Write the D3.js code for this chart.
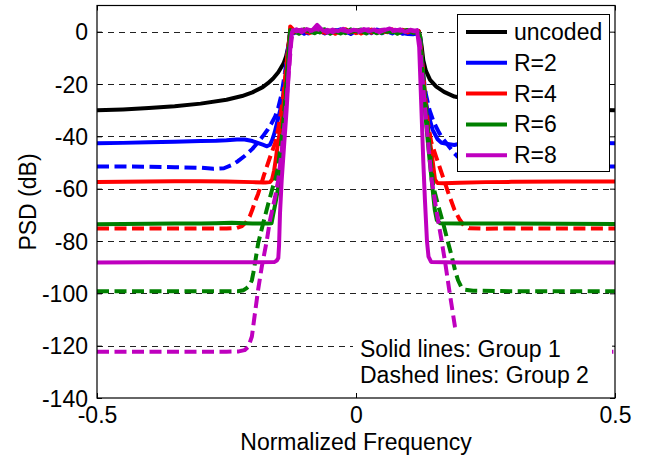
<!DOCTYPE html>
<html><head><meta charset="utf-8">
<script src="https://cdn.jsdelivr.net/npm/d3@7"></script>
<style>body{margin:0;background:#fff}</style>
</head><body><svg id="chart" width="653" height="460"></svg>
<script>
// ---------------- data ----------------
const xTicks = [-0.5, 0, 0.5];
const xTickLabels = ["-0.5", "0", "0.5"];
const yTicks = [0, -20, -40, -60, -80, -100, -120, -140];
const yTickLabels = ["0", "-20", "-40", "-60", "-80", "-100", "-120", "-140"];
const legendLabels = ["uncoded", "R=2", "R=4", "R=6", "R=8"];
const annotationLines = ["Solid lines: Group 1", "Dashed lines: Group 2"];
const xLabel = "Normalized Frequency";
const yLabel = "PSD (dB)";

const passbandFreq = [-0.127,-0.12,-0.11,-0.1,-0.09,-0.08,-0.07,-0.06,-0.05,-0.04,-0.03,-0.02,-0.01,0,0.01,0.02,0.03,0.04,0.05,0.06,0.07,0.08,0.09,0.1,0.11,0.121];
const passbandFreqR8 = [-0.122,-0.115,-0.105,-0.095,-0.085,-0.075,-0.065,-0.055,-0.045,-0.035,-0.025,-0.015,-0.005,0.005,0.015,0.025,0.035,0.045,0.055,0.065,0.075,0.085,0.095,0.105,0.112,0.118];

// uncoded
const uncodedLeft = [[-0.5,-30],[-0.45,-29.7],[-0.4,-29.2],[-0.35,-28.5],[-0.3,-27.5],[-0.25,-26],[-0.22,-24.6],[-0.2,-23.2],[-0.18,-21.2],[-0.17,-19.7],[-0.16,-17.9],[-0.15,-15.5],[-0.14,-12.2],[-0.135,-9.5],[-0.131,-6],[-0.128,-2.5]];
const uncodedPass = [0.4,0.1,-0.3,0.3,-0.2,0.5,0.1,-0.4,0.3,0.0,-0.3,0.5,0.2,-0.2,0.4,-0.1,0.3,-0.4,0.2,0.5,-0.2,0.1,0.4,-0.3,0.2,0.3];
const uncodedRight = [[0.124,-2],[0.127,-6],[0.13,-11],[0.135,-15],[0.143,-18.4],[0.155,-21],[0.17,-23],[0.19,-24.8],[0.22,-26],[0.26,-27.3],[0.3,-28.2],[0.35,-29],[0.4,-29.5],[0.45,-29.8],[0.5,-30]];

// R=2
const r2SolidLeft = [[-0.5,-42.6],[-0.45,-42.5],[-0.4,-42.3],[-0.35,-42.1],[-0.3,-41.8],[-0.27,-41.7],[-0.25,-41.5],[-0.23,-41.2],[-0.215,-41.2],[-0.2,-41.8],[-0.19,-42.5],[-0.18,-43.2],[-0.172,-43.8],[-0.166,-43.2],[-0.162,-41.5],[-0.157,-38.5],[-0.151,-33.7],[-0.145,-29],[-0.141,-24.8],[-0.134,-14.5],[-0.129,-3]];
const r2SolidPass = [0.3,-0.6,0.4,-0.8,0.2,-0.3,0.5,-0.7,0.1,0.6,-0.4,0.2,-0.9,0.3,-0.2,0.5,-0.6,0.8,-0.3,0.1,-0.7,0.4,-0.5,-0.9,-1.0,-0.6];
const r2SolidRight = [[0.124,-3],[0.127,-12],[0.13,-20],[0.134,-26],[0.14,-32],[0.148,-37.5],[0.157,-41],[0.165,-42.5],[0.18,-43],[0.19,-43.3],[0.2,-42.8],[0.22,-42.2],[0.25,-41.8],[0.3,-41.8],[0.35,-42.1],[0.4,-42.3],[0.45,-42.5],[0.5,-42.6]];
const r2DashLeft = [[-0.5,-51.5],[-0.45,-51.5],[-0.4,-51.6],[-0.35,-51.8],[-0.3,-52],[-0.275,-52.4],[-0.255,-52.2],[-0.24,-51],[-0.228,-49.5],[-0.215,-47.5],[-0.2,-44.8],[-0.19,-42.5],[-0.18,-40],[-0.17,-37.3],[-0.163,-35],[-0.156,-32.4],[-0.15,-29],[-0.145,-25],[-0.141,-20.5],[-0.137,-15.5],[-0.134,-11],[-0.131,-6],[-0.128,-2]];
const r2DashPass = [0.1,0.7,-0.5,0.2,-0.9,0.4,-0.2,0.6,-0.6,0.3,0.9,-0.4,0.2,-0.3,0.7,-0.5,0.1,1.2,-0.6,0.4,-0.2,0.5,-0.8,0.2,-0.7,-0.4];
const r2DashRight = [[0.124,-3],[0.127,-10],[0.13,-17],[0.135,-24],[0.142,-30],[0.15,-34.5],[0.16,-38.5],[0.168,-41],[0.178,-43.5],[0.19,-46.5],[0.2,-48.5],[0.215,-50.5],[0.235,-51.8],[0.26,-52.3],[0.3,-52],[0.35,-51.8],[0.4,-51.6],[0.45,-51.5],[0.5,-51.5]];

// R=4
const r4SolidLeft = [[-0.5,-57.5],[-0.45,-57.4],[-0.4,-57.3],[-0.35,-57.2],[-0.3,-57.2],[-0.25,-57.3],[-0.2,-57.5],[-0.175,-57.6],[-0.166,-57.5],[-0.162,-56.5],[-0.158,-53],[-0.155,-49],[-0.151,-43],[-0.143,-33.7],[-0.137,-21],[-0.131,-8],[-0.128,-2]];
const r4SolidPass = [2.0,0.6,-0.4,0.8,-0.6,0.3,1.0,-0.5,0.4,-0.8,0.5,0.9,-0.3,0.6,-0.7,0.2,0.8,-0.4,0.5,-0.2,0.9,-0.6,0.3,0.6,-0.3,0.2];
const r4SolidRight = [[0.124,-4],[0.13,-18],[0.1365,-33.7],[0.146,-46.4],[0.1525,-56.6],[0.157,-57.8],[0.17,-57.9],[0.2,-57.7],[0.25,-57.5],[0.3,-57.4],[0.4,-57.3],[0.5,-57.3]];
const r4DashLeft = [[-0.5,-75.2],[-0.45,-75.2],[-0.4,-75.2],[-0.35,-75.2],[-0.3,-75.2],[-0.25,-75.2],[-0.23,-75],[-0.22,-74.3],[-0.212,-72.8],[-0.205,-70.5],[-0.2,-68],[-0.195,-65],[-0.189,-62],[-0.183,-58.3],[-0.178,-55],[-0.172,-51.5],[-0.166,-48],[-0.16,-44.7],[-0.156,-42.5],[-0.15,-37],[-0.145,-31],[-0.14,-24],[-0.135,-14],[-0.131,-6],[-0.128,-1.5]];
const r4DashPass = [0.8,-0.3,0.6,-0.7,0.4,0.2,-0.9,0.5,-0.2,0.7,-0.5,0.3,0.8,-0.6,0.1,0.9,-0.4,0.3,-0.8,0.6,0.2,-0.5,0.7,-0.3,0.4,0.1];
const r4DashRight = [[0.124,-3],[0.128,-12],[0.133,-24],[0.139,-35],[0.145,-42],[0.155,-48],[0.167,-55],[0.178,-61.5],[0.19,-68],[0.2,-71.8],[0.208,-74],[0.218,-75.1],[0.25,-75.3],[0.3,-75.2],[0.4,-75.2],[0.5,-75.2]];

// R=6
const r6SolidLeft = [[-0.5,-73.6],[-0.45,-73.5],[-0.4,-73.4],[-0.35,-73.3],[-0.3,-73.3],[-0.27,-73.2],[-0.24,-73.0],[-0.2,-73.3],[-0.17,-73.3],[-0.163,-73.2],[-0.16,-70],[-0.155,-65],[-0.147,-56],[-0.142,-44],[-0.137,-30],[-0.132,-15],[-0.128,-3]];
const r6SolidPass = [-0.5,0.4,-0.8,0.6,0.1,-0.6,0.5,0.9,-0.4,0.2,-0.7,0.6,-0.2,0.4,0.8,-0.5,0.3,-0.6,0.7,-0.1,0.5,-0.8,0.3,0.6,-0.4,-0.2];
const r6SolidRight = [[0.123,-2],[0.128,-15],[0.134,-32],[0.14,-45],[0.146,-56.6],[0.152,-68],[0.156,-72],[0.162,-73.2],[0.2,-73.3],[0.3,-73.3],[0.4,-73.4],[0.5,-73.5]];
const r6DashLeft = [[-0.5,-99.2],[-0.4,-99.2],[-0.3,-99.2],[-0.25,-99.2],[-0.228,-99.2],[-0.217,-98.8],[-0.211,-98],[-0.205,-96.8],[-0.201,-95],[-0.198,-92],[-0.195,-88.5],[-0.189,-81],[-0.184,-77],[-0.179,-73],[-0.169,-65.5],[-0.16,-59],[-0.155,-56],[-0.151,-52.5],[-0.147,-46],[-0.143,-40],[-0.137,-27],[-0.131,-12],[-0.128,-2]];
const r6DashPass = [0.6,-0.7,0.3,0.9,-0.5,0.4,-0.3,0.7,-0.8,0.5,0.2,-0.6,0.9,-0.4,0.3,-0.7,0.6,0.1,-0.5,0.8,-0.3,0.4,-0.6,0.5,0.2,-0.3];
const r6DashRight = [[0.124,-2],[0.128,-12],[0.134,-27],[0.14,-40],[0.149,-59],[0.158,-66],[0.168,-73],[0.177,-80],[0.185,-86],[0.191,-91],[0.197,-95],[0.203,-97.5],[0.21,-98.6],[0.226,-99],[0.3,-99.2],[0.5,-99.2]];

// R=8
const r8SolidLeft = [[-0.5,-88.2],[-0.4,-88.1],[-0.3,-88.1],[-0.2,-88.1],[-0.157,-88],[-0.153,-87.5],[-0.15,-86.5],[-0.1486,-82],[-0.1467,-69.4],[-0.1434,-56.6],[-0.139,-44],[-0.134,-30],[-0.13,-16],[-0.126,-4],[-0.124,-0.5]];
const r8SolidPass = [0.3,0.9,-0.2,1.0,0.4,2.6,0.6,-0.3,0.8,0.2,1.1,-0.1,0.7,0.4,1.0,0.1,0.8,-0.2,0.6,1.2,0.3,0.9,-0.1,0.7,0.5,0.2];
const r8SolidRight = [[0.122,-6],[0.126,-28],[0.13,-50],[0.133,-64],[0.137,-80],[0.14,-86],[0.145,-88],[0.2,-88.2],[0.3,-88.2],[0.4,-88.2],[0.5,-88.2]];
const r8DashLeft = [[-0.5,-122.3],[-0.4,-122.3],[-0.3,-122.3],[-0.25,-122.3],[-0.226,-122.2],[-0.215,-121.7],[-0.208,-120.5],[-0.201,-116.5],[-0.195,-107.5],[-0.189,-98.7],[-0.182,-90],[-0.172,-79.6],[-0.166,-72],[-0.156,-63],[-0.15,-56.5],[-0.143,-45],[-0.137,-33],[-0.13,-16],[-0.125,-4]];
const r8DashPass = [0.5,0.1,0.8,-0.3,0.6,1.0,0.2,0.7,-0.2,0.9,0.4,0.1,0.8,-0.1,0.6,0.9,0.2,0.5,0.8,-0.2,0.7,0.3,0.9,0.4,0.1,0.6];
const r8DashRight = [[0.123,-4],[0.127,-14],[0.131,-24],[0.136,-35],[0.141,-46],[0.146,-56.6],[0.155,-68],[0.165,-79.6],[0.172,-88],[0.18,-98.7],[0.191,-112.7],[0.197,-118],[0.204,-121.3],[0.215,-122.2],[0.3,-122.3],[0.4,-122.3],[0.5,-122.3]];

const seriesColors = ["#000000", "#0000ff", "#ff0000", "#008000", "#bf00bf"];

// ---------------- build ----------------
function build(left, pf, pass, right) {
  return left.concat(pf.map((f, i) => [f, pass[i]]), right);
}
const series = [
  {c: 0, dashed: false, pts: build(uncodedLeft, passbandFreq, uncodedPass, uncodedRight)},
  {c: 1, dashed: false, pts: build(r2SolidLeft, passbandFreq, r2SolidPass, r2SolidRight)},
  {c: 1, dashed: true,  pts: build(r2DashLeft, passbandFreq, r2DashPass, r2DashRight)},
  {c: 2, dashed: false, pts: build(r4SolidLeft, passbandFreq, r4SolidPass, r4SolidRight)},
  {c: 2, dashed: true,  pts: build(r4DashLeft, passbandFreq, r4DashPass, r4DashRight)},
  {c: 3, dashed: false, pts: build(r6SolidLeft, passbandFreq, r6SolidPass, r6SolidRight)},
  {c: 3, dashed: true,  pts: build(r6DashLeft, passbandFreq, r6DashPass, r6DashRight)},
  {c: 4, dashed: false, pts: build(r8SolidLeft, passbandFreqR8, r8SolidPass, r8SolidRight)},
  {c: 4, dashed: true,  pts: build(r8DashLeft, passbandFreqR8, r8DashPass, r8DashRight)}
];

const svg = d3.select("#chart");
svg.append("rect").attr("width", 653).attr("height", 460).attr("fill", "#fff");
const L = 97, R = 615, T = 5.5, B = 398;
const font = "'Liberation Sans', Arial, Helvetica, sans-serif";
const fs = 23;

const x = d3.scaleLinear().domain([-0.5, 0.5]).range([L, R]);
const y = d3.scaleLinear().domain([-140, 10]).range([B, T]);

// grid (horizontal only)
svg.append("g").selectAll("line").data(yTicks.filter(v => v > -140)).join("line")
  .attr("x1", L).attr("x2", R)
  .attr("y1", d => Math.round(y(d)) + 0.5).attr("y2", d => Math.round(y(d)) + 0.5)
  .attr("stroke", "#222").attr("stroke-width", 1).attr("stroke-dasharray", "6,5");

svg.append("clipPath").attr("id", "clip").append("rect")
  .attr("x", L).attr("y", T).attr("width", R - L).attr("height", B - T);

const line = d3.line().x(d => x(d[0])).y(d => y(d[1]));
const gLines = svg.append("g").attr("clip-path", "url(#clip)");
series.forEach(s => {
  gLines.append("path").attr("d", line(s.pts))
    .attr("fill", "none").attr("stroke", seriesColors[s.c])
    .attr("stroke-width", 4)
    .attr("stroke-linejoin", "round")
    .attr("stroke-dasharray", s.dashed ? "12,5.5" : null);
});

// axes box & ticks
const axisG = svg.append("g");
const yAxisL = d3.axisLeft(y).tickValues(yTicks).tickSizeInner(-5).tickSizeOuter(0).tickFormat((d, i) => yTickLabels[i]).tickPadding(9);
const yAxisR = d3.axisRight(y).tickValues(yTicks).tickSizeInner(-5).tickSizeOuter(0).tickFormat("");
const xAxisB = d3.axisBottom(x).tickValues(xTicks).tickSizeInner(-5).tickSizeOuter(0).tickFormat((d, i) => xTickLabels[i]).tickPadding(9);
const xAxisT = d3.axisTop(x).tickValues(xTicks).tickSizeInner(-5).tickSizeOuter(0).tickFormat("");

const gyl = axisG.append("g").attr("transform", `translate(${L},0)`).call(yAxisL);
const gyr = axisG.append("g").attr("transform", `translate(${R},0)`).call(yAxisR);
const gxb = axisG.append("g").attr("transform", `translate(0,${B})`).call(xAxisB);
const gxt = axisG.append("g").attr("transform", `translate(0,${T})`).call(xAxisT);
[gyl, gyr, gxb, gxt].forEach(g => {
  g.select(".domain").remove();
  g.selectAll("line").attr("stroke", "#000");
  g.selectAll("text").attr("font-family", font).attr("font-size", fs).attr("fill", "#000");
});
gyl.selectAll("text").attr("dy", "0.35em");
gxb.selectAll("text").attr("dy", "0.71em");
axisG.append("rect").attr("x", L).attr("y", T).attr("width", R - L).attr("height", B - T)
  .attr("fill", "none").attr("stroke", "#000").attr("stroke-width", 1.2);

// annotation box
const ann = svg.append("g");
ann.append("rect").attr("x", 353).attr("y", 331).attr("width", 259).attr("height", 62).attr("fill", "#fff");
ann.selectAll("text").data(annotationLines).join("text")
  .attr("x", 360).attr("y", (d, i) => 357 + i * 26)
  .attr("font-family", font).attr("font-size", fs).attr("fill", "#000")
  .text(d => d);

// legend
const lg = svg.append("g");
lg.append("rect").attr("x", 457.5).attr("y", 14.5).attr("width", 152).attr("height", 157)
  .attr("fill", "#fff").attr("stroke", "#000").attr("stroke-width", 1);
legendLabels.forEach((lab, i) => {
  const yy = 32 + i * 30.8;
  lg.append("line").attr("x1", 466).attr("x2", 507).attr("y1", yy).attr("y2", yy)
    .attr("stroke", seriesColors[i]).attr("stroke-width", 4);
  lg.append("text").attr("x", 514).attr("y", yy).attr("dy", "0.35em")
    .attr("font-family", font).attr("font-size", fs).attr("fill", "#000").text(lab);
});

// axis labels
svg.append("text").attr("x", 356).attr("y", 450).attr("text-anchor", "middle")
  .attr("font-family", font).attr("font-size", fs).attr("fill", "#000").text(xLabel);
svg.append("text").attr("transform", "translate(36,202) rotate(-90)").attr("text-anchor", "middle")
  .attr("font-family", font).attr("font-size", fs).attr("fill", "#000").text(yLabel);
</script></body></html>
